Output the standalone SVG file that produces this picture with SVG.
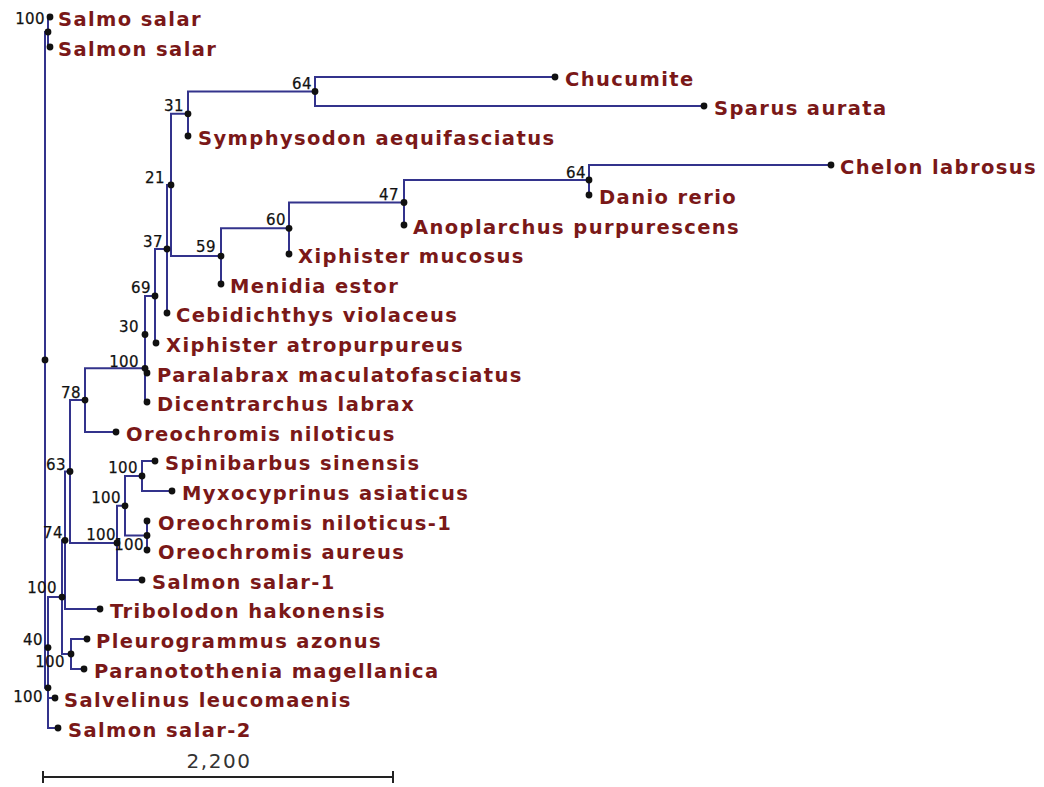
<svg xmlns="http://www.w3.org/2000/svg" width="1044" height="787" viewBox="0 0 1044 787">
<style>
.br{fill:none;stroke:#33338c;stroke-width:2;stroke-linejoin:miter}
.dot{fill:#111}
.leaf{font-family:"DejaVu Sans",sans-serif;font-weight:bold;font-size:19.5px;letter-spacing:1.4px;fill:#7a1818}
.sup{font-family:"DejaVu Sans",sans-serif;font-size:15px;letter-spacing:0.4px;fill:#111;stroke:#111;stroke-width:0.25;text-anchor:end}
.scale{font-family:"DejaVu Sans",sans-serif;font-size:20px;letter-spacing:1.5px;fill:#333;text-anchor:middle}
</style>
<rect width="1044" height="787" fill="#fff"/>
<g id="connectors">
<path class="br" d="M50 17 H48 V47 H50"/>
<path class="br" d="M555 77 H315 V106 H704"/>
<path class="br" d="M315 91.5 H188 V136"/>
<path class="br" d="M831 165 H589 V195"/>
<path class="br" d="M589 180 H404 V225"/>
<path class="br" d="M404 202.5 H289 V254"/>
<path class="br" d="M289 228.3 H221 V284"/>
<path class="br" d="M188 113.8 H171 V256.1 H221"/>
<path class="br" d="M171 184.9 H167 V313"/>
<path class="br" d="M167 249 H155 V343 H156"/>
<path class="br" d="M155 296 H145 V373 H147"/>
<path class="br" d="M145 334.5 V402 H147"/>
<path class="br" d="M145 368.3 H85 V432 H116"/>
<path class="br" d="M155 461 H142 V491 H172"/>
<path class="br" d="M147 521 V550"/>
<path class="br" d="M142 476 H125 V535.5 H147"/>
<path class="br" d="M125 505.8 H117 V580 H142"/>
<path class="br" d="M85 400.1 H70 V542.9 H117"/>
<path class="br" d="M70 471.5 H65 V609 H100"/>
<path class="br" d="M87 639 H71 V669 H84"/>
<path class="br" d="M65 540.3 H62 V654 H71"/>
<path class="br" d="M62 597.1 H48 V698 H55"/>
<path class="br" d="M48 647.6 V728 H58"/>
<path class="br" d="M48 32 H45 V687.8 H48"/>
</g>
<g id="internal-nodes">
<g id="n-root"><circle class="dot" cx="45" cy="359.9" r="3.4"/></g>
<g id="n-A"><circle class="dot" cx="48" cy="32" r="3.4"/><text class="sup" x="45" y="24">100</text></g>
<g id="n-64a"><circle class="dot" cx="315" cy="91.5" r="3.4"/><text class="sup" x="312" y="89">64</text></g>
<g id="n-31"><circle class="dot" cx="188" cy="113.8" r="3.4"/><text class="sup" x="184" y="111">31</text></g>
<g id="n-21"><circle class="dot" cx="171" cy="184.9" r="3.4"/><text class="sup" x="165" y="183">21</text></g>
<g id="n-64b"><circle class="dot" cx="589" cy="180" r="3.4"/><text class="sup" x="586" y="178">64</text></g>
<g id="n-47"><circle class="dot" cx="404" cy="202.5" r="3.4"/><text class="sup" x="399" y="200">47</text></g>
<g id="n-60"><circle class="dot" cx="289" cy="228.3" r="3.4"/><text class="sup" x="286" y="225">60</text></g>
<g id="n-37"><circle class="dot" cx="167" cy="249" r="3.4"/><text class="sup" x="163" y="247">37</text></g>
<g id="n-59"><circle class="dot" cx="221" cy="256.1" r="3.4"/><text class="sup" x="216" y="252">59</text></g>
<g id="n-69"><circle class="dot" cx="155" cy="296" r="3.4"/><text class="sup" x="151" y="293">69</text></g>
<g id="n-30"><circle class="dot" cx="145" cy="334.5" r="3.4"/><text class="sup" x="139" y="332">30</text></g>
<g id="n-100a"><circle class="dot" cx="145" cy="368.3" r="3.4"/><text class="sup" x="139" y="367">100</text></g>
<g id="n-78"><circle class="dot" cx="85" cy="400.1" r="3.4"/><text class="sup" x="81" y="398">78</text></g>
<g id="n-63"><circle class="dot" cx="70" cy="471.5" r="3.4"/><text class="sup" x="66" y="470">63</text></g>
<g id="n-Sp"><circle class="dot" cx="142" cy="476" r="3.4"/><text class="sup" x="138" y="473">100</text></g>
<g id="n-SM"><circle class="dot" cx="125" cy="505.8" r="3.4"/><text class="sup" x="121" y="503">100</text></g>
<g id="n-S"><circle class="dot" cx="117" cy="542.9" r="3.4"/><text class="sup" x="116" y="540">100</text></g>
<g id="n-O"><circle class="dot" cx="147" cy="535.5" r="3.4"/><text class="sup" x="144" y="550">100</text></g>
<g id="n-74"><circle class="dot" cx="65" cy="540.3" r="3.4"/><text class="sup" x="63" y="538">74</text></g>
<g id="n-597"><circle class="dot" cx="62" cy="597.1" r="3.4"/><text class="sup" x="57" y="593">100</text></g>
<g id="n-40"><circle class="dot" cx="48" cy="647.6" r="3.4"/><text class="sup" x="43" y="645">40</text></g>
<g id="n-PP"><circle class="dot" cx="71" cy="654" r="3.4"/><text class="sup" x="65" y="667">100</text></g>
<g id="n-688"><circle class="dot" cx="48" cy="687.8" r="3.4"/><text class="sup" x="43" y="702">100</text></g>
</g>
<g id="leaves">
<g id="l-salmo"><circle class="dot" cx="50" cy="17" r="3.4"/><text class="leaf" x="58" y="26">Salmo salar</text></g>
<g id="l-salmon"><circle class="dot" cx="50" cy="47" r="3.4"/><text class="leaf" x="58" y="56">Salmon salar</text></g>
<g id="l-chucumite"><circle class="dot" cx="555" cy="77" r="3.4"/><text class="leaf" x="565" y="86">Chucumite</text></g>
<g id="l-sparus"><circle class="dot" cx="704" cy="106" r="3.4"/><text class="leaf" x="714" y="115">Sparus aurata</text></g>
<g id="l-symphysodon"><circle class="dot" cx="188" cy="136" r="3.4"/><text class="leaf" x="198" y="145">Symphysodon aequifasciatus</text></g>
<g id="l-chelon"><circle class="dot" cx="831" cy="165" r="3.4"/><text class="leaf" x="840" y="174">Chelon labrosus</text></g>
<g id="l-danio"><circle class="dot" cx="589" cy="195" r="3.4"/><text class="leaf" x="599" y="204">Danio rerio</text></g>
<g id="l-anoplarchus"><circle class="dot" cx="404" cy="225" r="3.4"/><text class="leaf" x="413" y="234">Anoplarchus purpurescens</text></g>
<g id="l-xmucosus"><circle class="dot" cx="289" cy="254" r="3.4"/><text class="leaf" x="298" y="263">Xiphister mucosus</text></g>
<g id="l-menidia"><circle class="dot" cx="221" cy="284" r="3.4"/><text class="leaf" x="230" y="293">Menidia estor</text></g>
<g id="l-cebid"><circle class="dot" cx="167" cy="313" r="3.4"/><text class="leaf" x="176" y="322">Cebidichthys violaceus</text></g>
<g id="l-xatro"><circle class="dot" cx="156" cy="343" r="3.4"/><text class="leaf" x="166" y="352">Xiphister atropurpureus</text></g>
<g id="l-paralabrax"><circle class="dot" cx="147" cy="373" r="3.4"/><text class="leaf" x="157" y="382">Paralabrax maculatofasciatus</text></g>
<g id="l-dicentr"><circle class="dot" cx="147" cy="402" r="3.4"/><text class="leaf" x="157" y="411">Dicentrarchus labrax</text></g>
<g id="l-oreonil"><circle class="dot" cx="116" cy="432" r="3.4"/><text class="leaf" x="126" y="441">Oreochromis niloticus</text></g>
<g id="l-spini"><circle class="dot" cx="155" cy="461" r="3.4"/><text class="leaf" x="165" y="470">Spinibarbus sinensis</text></g>
<g id="l-myxo"><circle class="dot" cx="172" cy="491" r="3.4"/><text class="leaf" x="182" y="500">Myxocyprinus asiaticus</text></g>
<g id="l-oreo1"><circle class="dot" cx="147" cy="521" r="3.4"/><text class="leaf" x="158" y="530">Oreochromis niloticus-1</text></g>
<g id="l-oreoaureus"><circle class="dot" cx="147" cy="550" r="3.4"/><text class="leaf" x="158" y="559">Oreochromis aureus</text></g>
<g id="l-salmon1"><circle class="dot" cx="142" cy="580" r="3.4"/><text class="leaf" x="152" y="589">Salmon salar-1</text></g>
<g id="l-tribolodon"><circle class="dot" cx="100" cy="609" r="3.4"/><text class="leaf" x="110" y="618">Tribolodon hakonensis</text></g>
<g id="l-pleuro"><circle class="dot" cx="87" cy="639" r="3.4"/><text class="leaf" x="96" y="648">Pleurogrammus azonus</text></g>
<g id="l-parano"><circle class="dot" cx="84" cy="669" r="3.4"/><text class="leaf" x="94" y="678">Paranotothenia magellanica</text></g>
<g id="l-salvelinus"><circle class="dot" cx="55" cy="698" r="3.4"/><text class="leaf" x="64" y="707">Salvelinus leucomaenis</text></g>
<g id="l-salmon2"><circle class="dot" cx="58" cy="728" r="3.4"/><text class="leaf" x="68" y="737">Salmon salar-2</text></g>
</g>
<g id="scale-bar">
<path d="M43 777 H393 M43 771 V783 M393 771 V783" fill="none" stroke="#222" stroke-width="2"/>
<text class="scale" x="219" y="768">2,200</text>
</g>
</svg>
